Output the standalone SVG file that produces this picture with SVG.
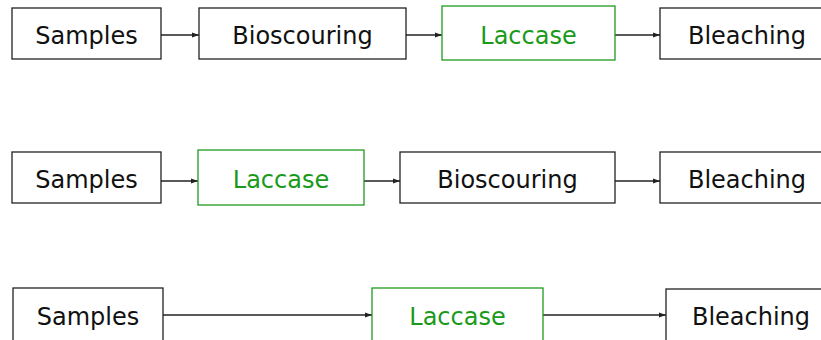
<svg xmlns="http://www.w3.org/2000/svg" width="821" height="340" viewBox="0 0 821 340">
<style>
.box{fill:#fff;stroke:#222;stroke-width:1.3}
.gbox{fill:#fff;stroke:#1f9a1f;stroke-width:1.3}
.t{font-family:"DejaVu Sans",Verdana,sans-serif;font-size:24px;text-anchor:middle;fill:#111}
.gt{font-family:"DejaVu Sans",Verdana,sans-serif;font-size:24px;text-anchor:middle;fill:#1a9a1a}
.c{stroke:#222;stroke-width:1.5;fill:none;marker-end:url(#ah)}
</style>
<defs>
<marker id="ah" markerWidth="7" markerHeight="6" refX="7" refY="3" orient="auto" markerUnits="userSpaceOnUse">
<path d="M0,0.5 L7,3 L0,5.5 Z" fill="#222"/>
</marker>
</defs>
<rect width="821" height="340" fill="#fff"/>
<g id="connectors">
<line class="c" x1="161" y1="35" x2="199" y2="35"/>
<line class="c" x1="406" y1="35" x2="442" y2="35"/>
<line class="c" x1="615" y1="35" x2="660" y2="35"/>
<line class="c" x1="161" y1="181" x2="198" y2="181"/>
<line class="c" x1="364" y1="181" x2="400" y2="181"/>
<line class="c" x1="615" y1="181" x2="660" y2="181"/>
<line class="c" x1="163" y1="315" x2="372" y2="315"/>
<line class="c" x1="543" y1="315" x2="666" y2="315"/>
</g>
<g id="r1-samples"><rect class="box" x="12" y="8" width="149" height="51"/><text class="t" x="86.5" y="43.5">Samples</text></g>
<g id="r1-bioscouring"><rect class="box" x="199" y="8" width="207" height="51"/><text class="t" x="302.5" y="43.5">Bioscouring</text></g>
<g id="r1-laccase"><rect class="gbox" x="442" y="6" width="173" height="54"/><text class="gt" x="528.5" y="43.5">Laccase</text></g>
<g id="r1-bleaching"><rect class="box" x="660" y="8" width="174" height="51"/><text class="t" x="747" y="43.5">Bleaching</text></g>
<g id="r2-samples"><rect class="box" x="12" y="152" width="149" height="51"/><text class="t" x="86.5" y="188">Samples</text></g>
<g id="r2-laccase"><rect class="gbox" x="198" y="150" width="166" height="55"/><text class="gt" x="281" y="188">Laccase</text></g>
<g id="r2-bioscouring"><rect class="box" x="400" y="152" width="215" height="51"/><text class="t" x="507.5" y="188">Bioscouring</text></g>
<g id="r2-bleaching"><rect class="box" x="660" y="152" width="174" height="51"/><text class="t" x="747" y="188">Bleaching</text></g>
<g id="r3-samples"><rect class="box" x="13" y="288" width="150" height="60"/><text class="t" x="88" y="325">Samples</text></g>
<g id="r3-laccase"><rect class="gbox" x="372" y="288" width="171" height="60"/><text class="gt" x="457.5" y="325">Laccase</text></g>
<g id="r3-bleaching"><rect class="box" x="666" y="289" width="174" height="60"/><text class="t" x="751" y="325">Bleaching</text></g>
</svg>
